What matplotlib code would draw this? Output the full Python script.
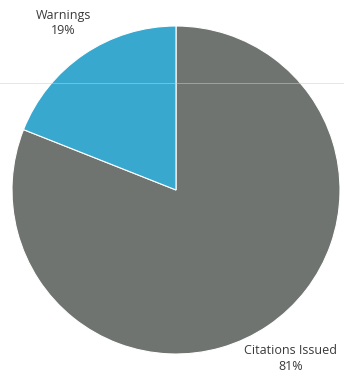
import matplotlib
matplotlib.use("Agg")
import matplotlib.pyplot as plt

categories = ["Citations Issued", "Warnings"]
values = [81, 19]
colors = ["#707470", "#38a8cf"]

W, H = 344, 375
fig = plt.figure(figsize=(W / 100, H / 100), dpi=100)
ax = fig.add_axes([0, 0, 1, 1])

cx, cy, r = 176, H - 190, 164
ax.pie(values, colors=colors, startangle=90, counterclock=False,
       center=(cx, cy), radius=r, frame=True,
       wedgeprops=dict(linewidth=0.8, edgecolor="white"))
ax.set_xlim(0, W)
ax.set_ylim(0, H)
ax.axis("off")

# faint scan line
ax.plot([0, W], [H - 83, H - 83], color="#cfcfcf", lw=0.6, zorder=5, alpha=0.6)

total = sum(values)
lbl_pos = {"Warnings": (63, H - 23), "Citations Issued": (291, H - 358)}
for c, v in zip(categories, values):
    x, y = lbl_pos[c]
    ax.text(x, y, f"{c}\n{round(100 * v / total)}%", ha="center", va="center",
            fontsize=9, family="Open Sans", color="#3a3a3a", linespacing=1.3)

fig.savefig("out.png", dpi=100)
